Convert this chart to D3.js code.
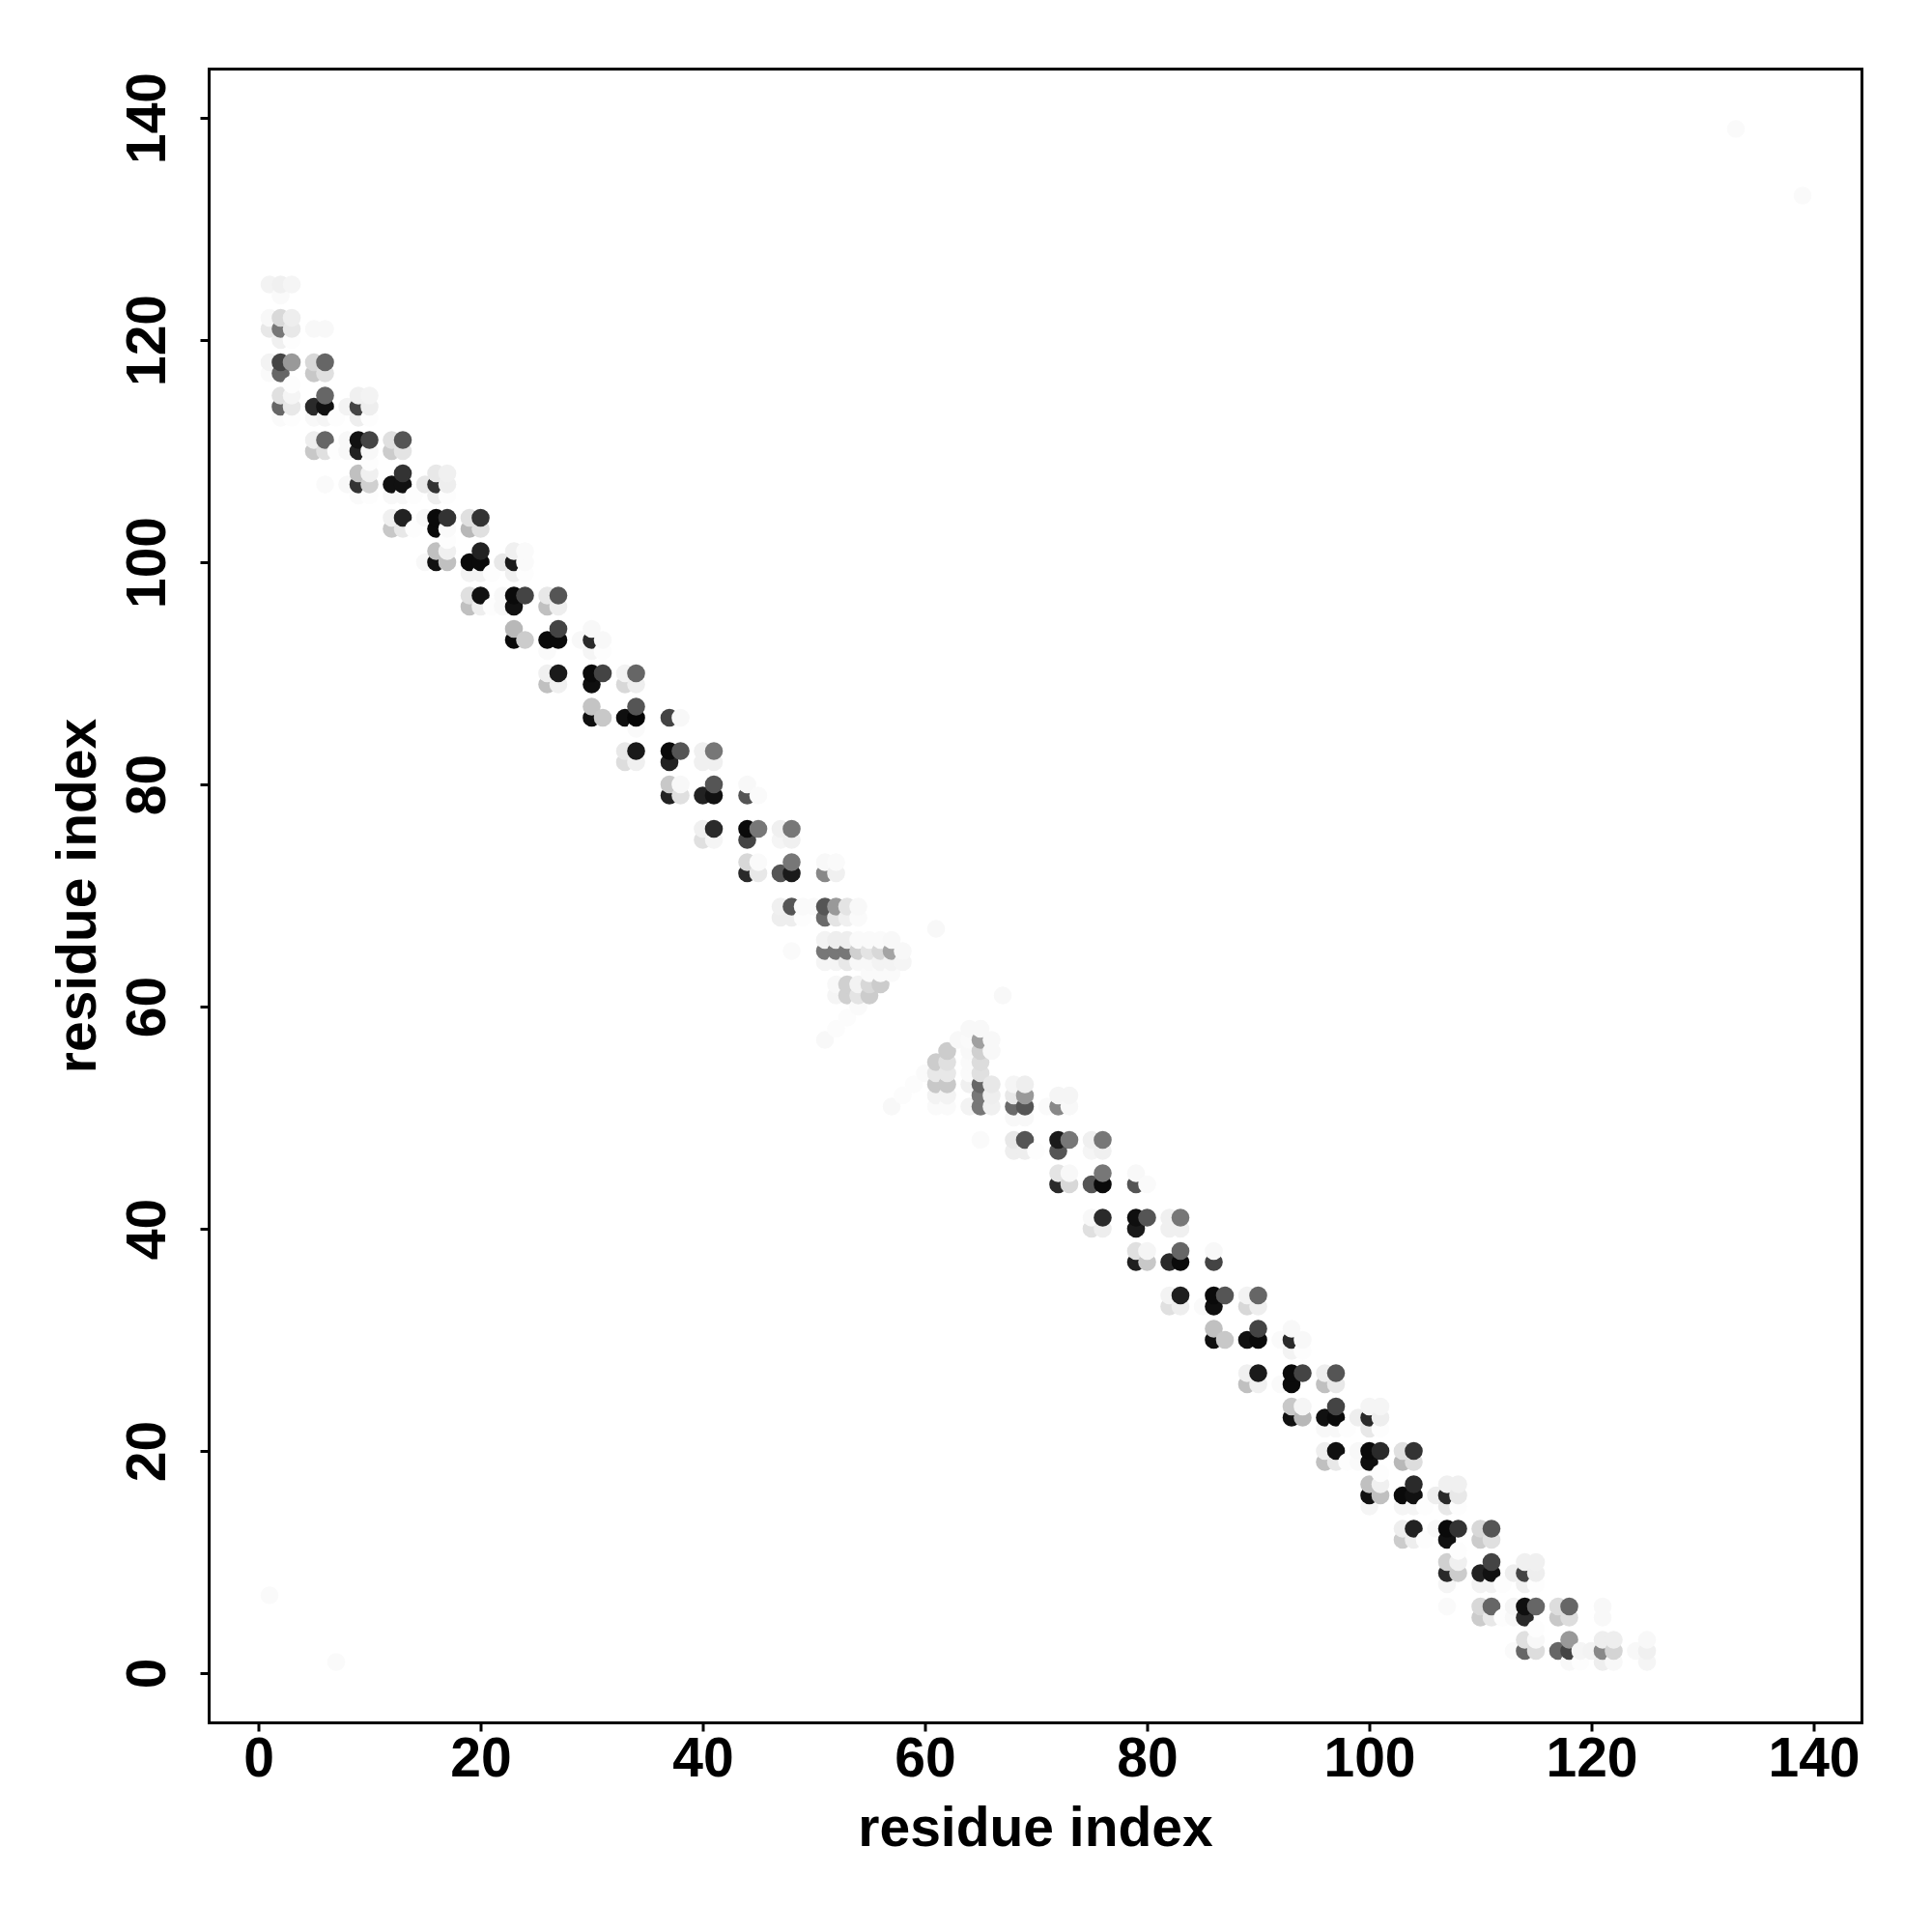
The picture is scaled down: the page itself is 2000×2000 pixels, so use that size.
<!DOCTYPE html>
<html><head><meta charset="utf-8">
<script src="https://cdnjs.cloudflare.com/ajax/libs/d3/7.8.5/d3.min.js"></script>
<style>html,body{margin:0;background:#fff}svg{display:block}</style>
</head><body><svg id="c" width="2000" height="2000"></svg>
<script>
const tickValues = [0,20,40,60,80,100,120,140];
const axisTitle = "residue index";
const rowY = [139,133,125,124,122,121,120,118,117,116,115,114,113,111,110,109,108,107,106,104,103,102,101,100,99,97,96,94,93,92,90,89,87,86,85,83,82,80,79,76,75,73,72,69,68,67,66,65,64,63,62,61,60,59,58,57,56,55,54,53,52,51,50,48,47,45,44,41,40,38,37,34,33,31,30,29,27,26,24,23,22,20,19,18,17,16,15,13,12,11,10,9,8,7,6,5,4,3,2,1];
const rowX = [
[133],[139],[1,2,3],[2],[1,2,3],[1,2,3,5,6],[2,3],[1,2,3,5,6],[1,2,5,6],[3],[2,3,6,9,10],[2,3,5,6,8,9,10],[2,3,5,6,7,9,10],
[5,6,8,9,10,12,13],[5,6,7,8,9,10,12,13],[10],[9,10,13,16,17],[6,8,9,10,12,13,15,16,17],[9,10,12,13,14,16,17],
[12,13,15,16,17,19,20],[12,13,14,16,17,19,20],[17],[16,17,20,23,24],[15,16,17,19,20,22,23,24],[19,20,21,23,24],
[19,20,22,23,24,26,27],[19,20,21,22,23,26,27],[23,27,30],[23,24,26,27,29,30,31],[26,30,31],[26,27,30,31,33,34],[26,27,30,33,34],
[30,34],[30,31,33,34,37,38],[34],[33,34,37,38,40,41],[33,34,37,40,41],[37,38,41,44],[37,38,40,41,44,45],[40,41,44,45,47,48],[40,41,44,47,48],
[44,45,48,51,52],[44,45,47,48,51,52],[47,48,49,50,51,52,53,54],[47,48,49,51,52,53,54],[61],[51,52,53,54,55,56,57],[48,51,52,53,54,55,56,57,58],[51,52,53,54,55,56,57,58],
[55,56,57],[52,53,54,55,56],[52,53,54,55,67],[54],[53],[52,64,65],[51,63,64,65,66],[62,64,65,66],[61,62,64,65],[60,61,62,64,65],
[59,61,62,64,65,66,68,69],[58,61,62,65,66,68,69,72,73],[57,61,62,64,65,66,68,69,71,72,73],[68,69],[65,68,69,72,73,75,76],[68,69,70,72,75,76],
[72,73,76,79],[72,73,75,76,79,80],[75,76,79,80,82,83],[75,76,79,82,83],[79,80,83,86],[79,80,82,83,86],[82,83,86,87,89,90],[82,83,85,86,89,90],
[86,90,93],[86,87,89,90,92,93,94],[93,94],[89,90,93,94,96,97],[89,90,92,93,96,97],[93,94,97,100,101],[93,94,96,97,99,100,101],[96,97,98,100,101],
[96,97,99,100,101,103,104],[96,97,98,99,100,103,104],[101],[100,101,104,107,108],[100,101,103,104,106,107,108],[100,103,104,105,107,108],
[103,104,106,107,108,110,111],[103,104,105,107,110,111],[108],[107,108,111,114,115],[107,108,110,111,113,114,115],[107,110,111,112,114,115],[1],
[107,110,111,113,114,115,117,118,121],[110,111,112,113,114,117,118,121],[115],[114,115,118,121,122,125],[113,114,115,117,118,119,120,121,122,124,125],[7,118,119,121,122,125]
];
const rowGrey = [
[250],[250],[243,240,245],[250],[248,217,238],[232,119,232,248,248],[240,253],[243,68,153,216,102],[250,102,200,224],[253],[224,245,102,240,243],[102,232,42,17,243,68,238],[250,253,248,245,253,238,253],
[238,102,248,17,68,224,85],[200,224,253,248,34,248,204,228],[253],[192,240,51,232,240],[250,248,51,208,17,17,232,51,238],[250,253,248,248,253,238,253],
[240,34,248,10,51,224,51],[200,232,253,10,250,184,224],[253],[192,240,34,240,250],[248,17,192,10,10,232,26,250],[243,243,253,240,253],
[224,17,248,10,68,232,85],[192,238,253,248,17,192,238],[184,68,248],[10,204,10,10,248,42,248],[250,245,253],[240,26,10,68,243,102],[192,240,15,216,238],
[196,85],[15,200,15,5,68,248],[250],[232,26,10,85,240,119],[221,240,34,240,240],[200,248,85,248],[34,224,34,17,85,250],[240,42,10,119,240,119],[224,245,68,245,240],
[216,250,119,248,250],[42,232,85,26,136,240],[240,85,250,250,85,153,228,248],[238,238,253,106,228,240,250],[248],[243,238,238,250,250,250,248],[250,119,119,119,208,228,216,164,248],[245,245,232,248,248,243,243,245],
[250,250,250],[248,208,243,216,204],[245,208,228,204,248],[250],[252],[252,248,248],[248,248,250,160,248],[204,248,208,248],[204,224,250,220],[250,232,232,250,224],
[252,200,200,240,102,232,245,238],[252,243,243,119,238,232,153,245,245],[248,250,250,243,119,240,106,85,250,136,248],[248,248],[250,232,85,26,119,240,119],[238,238,253,85,245,240],
[228,248,119,248],[42,216,85,10,85,250],[248,42,15,85,240,119],[224,238,26,240,240],[224,245,102,248],[31,200,42,10,68],[243,31,10,85,243,102],[224,238,250,15,216,238],
[192,68,248],[15,200,17,10,250,42,248],[243,253],[240,26,10,68,238,85],[192,240,250,10,192,232],[200,245,68,245,245],[17,184,17,10,238,42,238],[248,248,253,232,253],
[238,17,248,10,42,224,51],[192,232,253,250,15,184,221],[253],[192,240,42,240,240],[17,192,10,17,238,42,232],[245,245,245,253,232,253],
[238,34,248,10,51,216,85],[204,238,253,17,204,224],[253],[208,240,68,240,240],[42,204,34,17,238,68,238],[245,243,243,253,240,253],[250],
[250,216,102,245,15,102,221,102,248],[204,232,253,248,42,200,221,248],[253],[224,248,153,238,238,248],[250,102,221,102,68,245,243,136,212,248,240],[250,248,253,238,248,245]
];

const svg = d3.select("#c");
const L = 216.5, R = 1927.5, T = 71.5, B = 1783.5;
const x = d3.scaleLinear().domain([0,140]).range([267.5,1877.5]);
const y = d3.scaleLinear().domain([0,140]).range([1732,122]);
const shade = d3.scaleLinear().domain([0,255]).range(["#000000","#ffffff"]);

const points = [];
rowY.forEach((yy,i)=>rowX[i].forEach((xx,k)=>points.push({x:xx,y:yy,g:rowGrey[i][k]})));
points.sort((a,b)=>a.x-b.x||a.y-b.y);

svg.append("g").selectAll("circle").data(points).join("circle")
  .attr("cx",d=>x(d.x)).attr("cy",d=>y(d.y)).attr("r",9.3)
  .attr("fill",d=>shade(d.g));

svg.append("rect").attr("x",L).attr("y",T).attr("width",R-L).attr("height",B-T)
  .attr("fill","none").attr("stroke","#000").attr("stroke-width",3);

const font = "'Liberation Sans', Arial, sans-serif";
const gx = svg.append("g").attr("transform",`translate(0,${B})`)
  .call(d3.axisBottom(x).tickValues(tickValues).tickSize(9).tickPadding(0).tickFormat(d3.format("d")));
gx.select(".domain").remove();
gx.selectAll("line").attr("stroke","#000").attr("stroke-width",3);
gx.selectAll("text").attr("y",null).attr("dy",null).attr("transform",null)
  .style("font",`bold 57px ${font}`).attr("fill","#000").attr("text-anchor","middle")
  .attr("y",55);

const gy = svg.append("g").attr("transform",`translate(${L},0)`)
  .call(d3.axisLeft(y).tickValues(tickValues).tickSize(9).tickPadding(0).tickFormat(d3.format("d")));
gy.select(".domain").remove();
gy.selectAll("line").attr("stroke","#000").attr("stroke-width",3);
gy.selectAll("text").attr("x",null).attr("dy",null)
  .style("font",`bold 57px ${font}`).attr("fill","#000").attr("text-anchor","middle")
  .attr("transform","translate(-46,0) rotate(-90)");

svg.append("text").attr("x",(L+R)/2).attr("y",1911).attr("text-anchor","middle")
  .style("font",`bold 57px ${font}`).text(axisTitle);
svg.append("text").attr("transform",`translate(99,${(T+B)/2}) rotate(-90)`).attr("text-anchor","middle")
  .style("font",`bold 57px ${font}`).text(axisTitle);
</script></body></html>
